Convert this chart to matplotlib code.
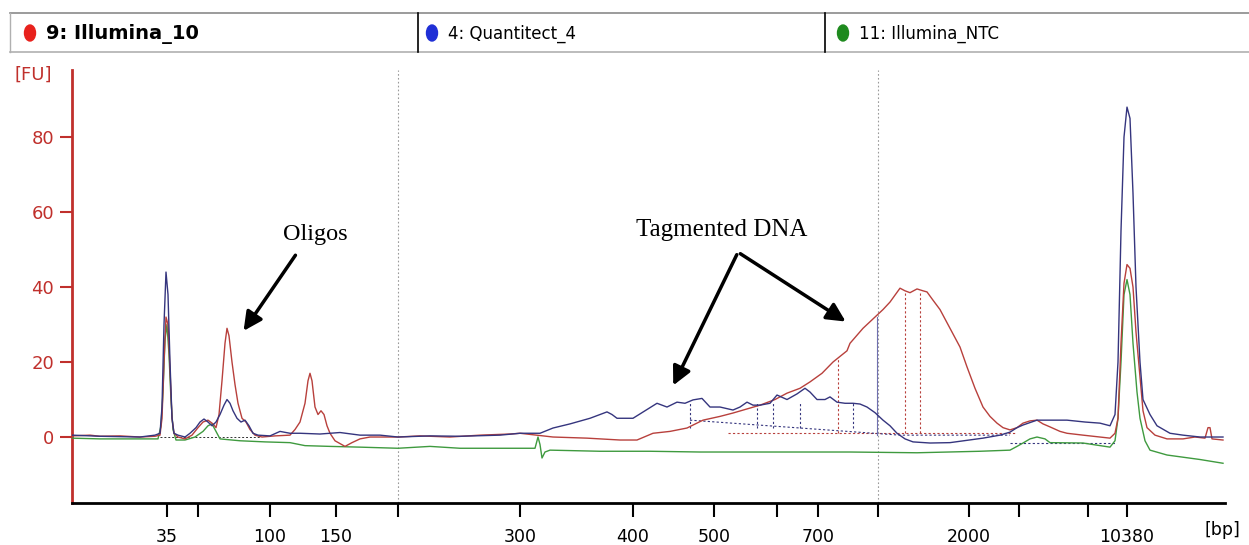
import matplotlib.pyplot as plt
from matplotlib.patches import Ellipse

# migration position along the run (ladder-calibrated) and fluorescence [FU]
red_x = [72, 90, 100, 120, 140, 155, 160, 162, 164, 166, 168, 170, 172, 174, 178, 185, 192, 198, 203, 208,
         213, 216, 219, 222, 225, 227, 229, 232, 235, 238, 242, 246, 250, 255, 262, 275, 290, 295, 300, 305,
         308, 310, 312, 315, 318, 321, 324, 327, 330, 335, 345, 352, 360, 370, 398, 420, 450, 480, 510, 520,
         553, 587, 620, 637, 653, 670, 687, 703, 720, 733, 747, 760, 775, 787, 800, 810, 822, 833, 847, 850,
         863, 877, 883, 890, 900, 905, 910, 917, 923, 927, 933, 940, 950, 960, 967, 975, 983, 990, 997, 1003,
         1010, 1017, 1023, 1030, 1037, 1043, 1050, 1060, 1067, 1083, 1100, 1110, 1115, 1118, 1121, 1124, 1127,
         1130, 1133, 1136, 1140, 1143, 1147, 1155, 1167, 1183, 1195, 1205, 1208, 1210, 1212, 1223]
red_y = [0.3, 0.5, 0.2, 0.3, 0.0, 0.2, 0.5, 5, 20, 32, 30, 18, 5, 1, 0, -0.5, 0.5, 2.5, 4, 4.5,
         3.5, 2.5, 6, 15, 25, 29, 27, 20, 14, 9, 5, 4, 2, 0.5, 0, 0.3, 0.5, 2, 4, 9,
         15, 17, 15, 8, 6, 7, 6, 3, 1, -1, -2.5, -1.5, -0.5, 0, 0, 0.3, 0, 0.5, 0.8, 1,
         0, -0.3, -0.8, -0.8, 1, 1.5, 2.4, 4.5, 5.5, 6.4, 7.5, 8.5, 10, 11.7, 13, 14.7, 17, 20, 23, 25,
         29, 32.5, 34, 36, 39.7, 39, 38.5, 39.5, 39, 38.7, 36.5, 34, 29, 24, 18.7, 13, 8, 5.5, 3.7, 2.5,
         1.9, 2.5, 3.7, 4.3, 4.5, 3.5, 2.7, 1.5, 1, 0.5, 0, -0.3, 1, 5, 25, 41, 46,
         45, 40, 28, 16, 7, 2.5, 0.5, -0.5, -0.5, 0, -0.3, 2.5, 2.5, -0.5, -0.8]

blue_x = [72, 100, 140, 155, 160, 162, 164, 166, 168, 170, 172, 174, 178, 185, 190, 196, 200, 204, 208, 212,
          216, 220, 224, 227, 230, 233, 237, 241, 245, 249, 253, 258, 270, 280, 290, 300, 320, 340, 360, 380,
          398, 430, 460, 500, 520, 540, 553, 570, 590, 607, 612, 617, 633, 645, 657, 667, 677, 685, 693, 702,
          710, 720, 733, 740, 747, 753, 760, 770, 777, 787, 797, 805, 810, 817, 825, 830, 837, 845, 853, 860,
          867, 875, 883, 890, 897, 905, 913, 930, 950, 983, 1000, 1010, 1017, 1023, 1037, 1067, 1085, 1100,
          1110, 1115, 1118, 1121, 1124, 1127, 1130, 1133, 1136, 1140, 1143, 1150, 1157, 1170, 1183, 1200, 1223]
blue_y = [0.5, 0.2, 0, 0.5, 1, 8, 30, 44, 38, 20, 5, 1, 0.5, 0, 1, 2.5, 4, 4.8, 4, 3,
          4, 6, 8.5, 10, 9, 7, 5, 4, 4.5, 3, 1, 0.5, 0.3, 1.5, 1, 1, 0.8, 1.2, 0.5, 0.5,
          0, 0.3, 0.2, 0.5, 1, 1, 2.4, 3.5, 5, 6.7, 6, 5, 5, 7, 9, 8, 9.3, 9, 9.9, 10.3,
          8, 8, 7.2, 8, 9.3, 8.5, 8.5, 9, 11.2, 10, 11.5, 13, 12, 10, 10, 10.7, 9.3, 9, 9, 8.8,
          8, 6.5, 4.5, 3, 1, -0.5, -1.3, -1.6, -1.5, -0.3, 0.5, 1.3, 2.5, 3.2, 4.5, 4.5, 4, 3.7,
          3, 6, 20, 55, 80, 88, 85, 65, 40, 20, 10, 6, 3, 1, 0.5, 0, 0]

green_x = [72, 100, 140, 158, 161, 163, 165, 167, 169, 171, 173, 176, 185, 195, 203, 208, 212, 215, 220, 240,
           265, 290, 305, 330, 360, 398, 430, 460, 490, 520, 535, 538, 540, 542, 545, 550, 600, 650, 700, 780,
           850, 917, 980, 1010, 1017, 1023, 1030, 1037, 1045, 1050, 1083, 1110, 1115, 1118, 1121, 1124, 1127,
           1130, 1133, 1137, 1140, 1145, 1150, 1167, 1200, 1223]
green_y = [-0.3, -0.5, -0.5, -0.5, 3, 12, 26, 30, 22, 10, 2, -0.8, -0.8, 0, 1.5, 3, 3.5, 2, -0.5, -1,
           -1.3, -1.5, -2.3, -2.5, -2.7, -3, -2.5, -3, -3, -3, -3, 0, -2, -5.6, -4, -3.5, -3.8, -3.8, -4, -4,
           -4, -4.2, -3.8, -3.5, -2.5, -1.6, -0.5, 0, -0.5, -1.5, -1.6, -2.7, -1, 5, 20, 38, 42,
           38, 25, 12, 5, -1, -3.5, -4.8, -6, -7]

# ladder peaks: position on the run and size label
ladder_pos = [167, 198, 270, 336, 398, 520, 633, 714, 777, 818, 878, 969, 1019, 1088, 1127]
ladder_lbl = ['35', '', '100', '150', '', '300', '400', '500', '', '700', '', '2000', '', '', '10380']
y_ticks = [0, 20, 40, 60, 80]

# peak borders drawn by the software
red_cuts = [838, 905, 920]
blue_cuts = [690, 757, 773, 800, 853]

samples = ['9: Illumina_10', '4: Quantitect_4', '11: Illumina_NTC']
sample_colors = ['#e8211c', '#1f2fd6', '#1e8a1e']

RED = '#c0302c'

fig = plt.figure(figsize=(12.49, 5.45), dpi=100)
ax = fig.add_axes([72 / 1249, 42 / 545, 1153 / 1249, 433 / 545])

for p in [398, 878]:
    ax.axvline(p, color='#9a9a9a', lw=0.8, ls=(0, (1.5, 2)), zorder=1)

ax.plot(green_x, green_y, color='#3f9a3f', lw=1.0, zorder=3)
ax.plot(red_x, red_y, color='#b8403c', lw=1.0, zorder=4)
ax.plot(blue_x, blue_y, color='#35357e', lw=1.0, zorder=5)

# baselines / peak borders
ax.plot([160, 260], [0, 0], color='#333333', lw=0.7, ls=(0, (2, 2)), zorder=2)
ax.plot([728, 1015], [1.2, 1.2], color='#b8403c', lw=0.8, ls=(0, (2, 2)), zorder=2)
ax.plot([690, 900, 1010], [4.5, 0.5, 0.5], color='#35357e', lw=0.8, ls=(0, (2, 2)), zorder=2)
ax.plot([1010, 1115], [-1.5, -1.5], color='#35357e', lw=0.8, ls=(0, (2, 2)), zorder=2)
for c in red_cuts:
    ax.plot([c, c], [1.2, 39 if c > 900 else 21], color='#b8403c', lw=0.8, ls=(0, (2, 2)), zorder=2)
for c in blue_cuts:
    ax.plot([c, c], [2.5, 9], color='#35357e', lw=0.8, ls=(0, (2, 2)), zorder=2)
ax.plot([877, 877], [0.5, 32], color='#7070b0', lw=0.8, zorder=2)

ax.set_xlim(72, 1225)
ax.set_ylim(-17.6, 97.9)
ax.set_xticks(ladder_pos)
ax.set_xticklabels(ladder_lbl)
ax.set_yticks(y_ticks)

for s in ['top', 'right']:
    ax.spines[s].set_visible(False)
ax.spines['left'].set_color(RED)
ax.spines['left'].set_linewidth(2)
ax.spines['bottom'].set_color('black')
ax.spines['bottom'].set_linewidth(2)
ax.tick_params(axis='y', colors=RED, labelcolor=RED, length=9, width=1.5, labelsize=13, pad=4)
ax.tick_params(axis='x', colors='black', length=10, width=1.5, labelsize=12.5, pad=8)

fig.text(33 / 1249, 1 - 75 / 545, '[FU]', color=RED, fontsize=13, ha='center', va='center')
fig.text(1222 / 1249, 1 - 530 / 545, '[bp]', color='black', fontsize=12.5, ha='center', va='center')

# annotations
serif = 'Liberation Serif'
ax.text(315, 54, 'Oligos', family=serif, fontsize=17.5, ha='center', va='center')
ax.annotate('', xy=(242, 27.7), xytext=(297, 49.1),
            arrowprops=dict(arrowstyle='-|>', lw=2.5, color='black', mutation_scale=28))
ax.text(722, 55.3, 'Tagmented DNA', family=serif, fontsize=18, ha='center', va='center')
ax.annotate('', xy=(672, 13.1), xytext=(738, 49.3),
            arrowprops=dict(arrowstyle='-|>', lw=2.5, color='black', mutation_scale=28))
ax.annotate('', xy=(848, 30.4), xytext=(738, 49.3),
            arrowprops=dict(arrowstyle='-|>', lw=2.5, color='black', mutation_scale=28))

# sample header bar
hx = fig.add_axes([0, 0, 1, 1], facecolor='none')
hx.set_xlim(0, 1249)
hx.set_ylim(545, 0)
hx.axis('off')
hx.plot([10, 1249], [13, 13], color='#8a8a8a', lw=1.2)
hx.plot([10, 1249], [52, 52], color='#b0b0b0', lw=1.2)
hx.plot([10, 10], [13, 52], color='#b0b0b0', lw=1.0)
for d in [418, 825]:
    hx.plot([d, d], [13, 52], color='black', lw=1.2)
for i, (name, col) in enumerate(zip(samples, sample_colors)):
    x0 = [30, 432, 843][i]
    hx.add_patch(Ellipse((x0, 33), 11, 16, color=col))
    hx.text(x0 + 16, 34, name, va='center', ha='left',
            fontsize=14 if i == 0 else 12,
            fontweight='bold' if i == 0 else 'normal')

fig.savefig('out.png', dpi=100)
